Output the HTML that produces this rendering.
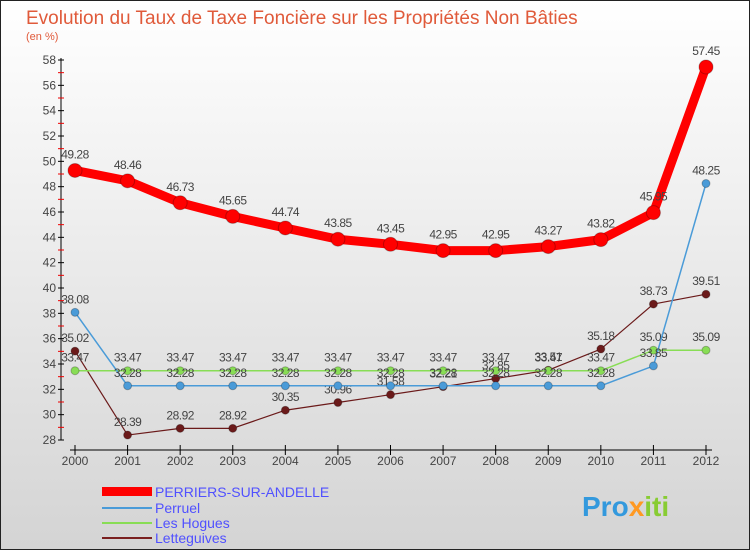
<!DOCTYPE html>
<html><head><meta charset="utf-8"><style>
body{margin:0;}
#wrap{width:750px;height:550px;position:relative;overflow:hidden;font-family:"Liberation Sans",sans-serif;}
</style></head><body>
<div id="wrap">
<svg id="svg" width="750" height="550" xmlns="http://www.w3.org/2000/svg">
<defs><linearGradient id="bg" x1="0" y1="0" x2="0" y2="1"><stop offset="0" stop-color="#ffffff"/><stop offset="1" stop-color="#d4d4d4"/></linearGradient></defs>
<rect x="0.5" y="0.5" width="749" height="549" fill="url(#bg)" stroke="#222"/>
<text x="26" y="24" font-size="19" fill="#e05a3a">Evolution du Taux de Taxe Foncière sur les Propriétés Non Bâties</text>
<text x="26" y="40" font-size="11" fill="#e05a3a">(en %)</text>
<g id="axes"></g><g id="series"></g>
<g>
<rect x="102" y="487" width="50" height="9" fill="#ff0000"/>
<text x="155" y="497" font-size="14" fill="#5050ff">PERRIERS-SUR-ANDELLE</text>
<rect x="102" y="507" width="50" height="2" fill="#4a9bd8"/>
<text x="155" y="513" font-size="14" fill="#5050ff">Perruel</text>
<rect x="102" y="522" width="50" height="2" fill="#88dd55"/>
<text x="155" y="528" font-size="14" fill="#5050ff">Les Hogues</text>
<rect x="102" y="537" width="50" height="2" fill="#7a2020"/>
<text x="155" y="543" font-size="14" fill="#5050ff">Letteguives</text>
</g>
<text x="582" y="516" font-size="28" font-weight="bold" fill="#3399dd">Pro<tspan fill="#ff9922">x</tspan><tspan fill="#88cc33">iti</tspan></text>
</svg>
</div>
<script>
const years=[2000,2001,2002,2003,2004,2005,2006,2007,2008,2009,2010,2011,2012];
const perriers=[49.28,48.46,46.73,45.65,44.74,43.85,43.45,42.95,42.95,43.27,43.82,45.95,57.45];
const perruel=[38.08,32.28,32.28,32.28,32.28,32.28,32.28,32.28,32.28,32.28,32.28,33.85,48.25];
const hogues=[33.47,33.47,33.47,33.47,33.47,33.47,33.47,33.47,33.47,33.47,33.47,35.09,35.09];
const lette=[35.02,28.39,28.92,28.92,30.35,30.96,31.58,32.21,32.85,33.51,35.18,38.73,39.51];
const yTicks=[28,30,32,34,36,38,40,42,44,46,48,50,52,54,56,58];
const NS="http://www.w3.org/2000/svg";
const X=i=>75+i*(706-75)/(years.length-1);
const Y=v=>440-(v-28)*(380/30);
function mk(t,a,p){const e=document.createElementNS(NS,t);for(const k in a)e.setAttribute(k,a[k]);p.appendChild(e);return e;}
const ax=document.getElementById('axes');
let l=mk('line',{x1:61,y1:Y(58)-2,x2:61,y2:440,stroke:'#000'},ax);

yTicks.forEach(v=>{mk('line',{x1:58,x2:64,y1:Y(v),y2:Y(v),stroke:'#000'},ax);
 if(v<58)mk('line',{x1:58,x2:64,y1:Y(v+1),y2:Y(v+1),stroke:'#e00'},ax);
 const t=mk('text',{x:56,y:Y(v)+4,'text-anchor':'end','font-size':12,fill:'#444'},ax);t.textContent=v;
 });
l=mk('line',{x1:70,x2:712,y1:450,y2:450,stroke:'#000'},ax);

years.forEach((y,i)=>{mk('line',{x1:X(i),x2:X(i),y1:445,y2:455,stroke:'#000'},ax);
 const t=mk('text',{x:X(i),y:465,'text-anchor':'middle','font-size':12,fill:'#444'},ax);t.textContent=y;
 });
const sg=document.getElementById('series');
function series(d,col,w,r,name){const g=mk('g',{},sg);
 
 mk('polyline',{points:d.map((v,i)=>X(i)+','+Y(v)).join(' '),fill:'none',stroke:col,'stroke-width':w,'stroke-linejoin':'round'},g);
 d.forEach((v,i)=>{const c=mk('circle',{cx:X(i),cy:Y(v),r:r,fill:col,stroke:'rgba(0,0,0,0.25)'},g);
  
  const t=mk('text',{x:X(i),y:Y(v)-r-5,'text-anchor':'middle','font-size':12,fill:'#444','letter-spacing':'-0.5'},g);t.textContent=v;
  });}
series(lette,'#6b1a1a',1.2,4,'series-letteguives');
series(hogues,'#88dd55',1.5,4,'series-les-hogues');
series(perruel,'#4a9bd8',1.5,4,'series-perruel');
series(perriers,'#ff0000',9,7,'series-perriers');
</script>
</body></html>
